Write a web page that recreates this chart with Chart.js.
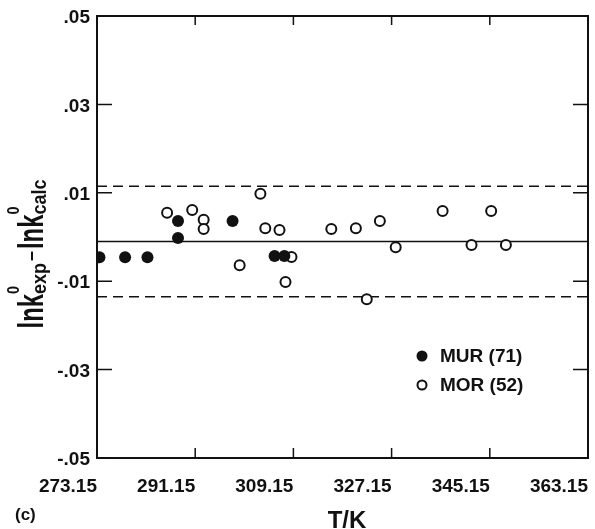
<!DOCTYPE html>
<html><head><meta charset="utf-8">
<script src="https://cdn.jsdelivr.net/npm/chart.js@4/dist/chart.umd.min.js"></script>
<style>html,body{margin:0;padding:0;background:#fff;}canvas{display:block;}</style>
</head><body>
<canvas id="c" width="595" height="529"></canvas>
<script>
// ---- data ----
const xTicks = [273.15, 291.15, 309.15, 327.15, 345.15, 363.15];
const yTicks = [-0.05, -0.03, -0.01, 0.01, 0.03, 0.05];
const murT = [273.6, 278.3, 282.4, 288.0, 288.0, 298.0, 305.7, 307.5];
const murD = [-0.0046, -0.0046, -0.0046, 0.0036, -0.0002, 0.0036, -0.0043, -0.0043];
const morT = [286.0, 290.6, 292.7, 292.7, 303.1, 304.0, 306.6, 299.3, 308.8, 307.7, 316.1, 320.6, 322.6, 325.0, 327.9, 336.5, 341.8, 345.4, 348.1];
const morD = [0.0055, 0.0061, 0.0039, 0.0018, 0.0098, 0.0020, 0.0016, -0.0064, -0.0045, -0.0102, 0.0018, 0.0020, -0.0141, 0.0036, -0.0023, 0.0059, -0.0018, 0.0059, -0.0018];
const meanLine = -0.001;
const upperLine = 0.0115;
const lowerLine = -0.0135;
const seriesNames = ['MUR (71)', 'MOR (52)'];

const FONT = "'Liberation Sans', Arial, Helvetica, sans-serif";
const INK = '#111';

const xMin = xTicks[0], xMax = xTicks[xTicks.length - 1];
const hLine = (v) => [{x: xMin, y: v}, {x: xMax, y: v}];
const pts = (xs, ys) => xs.map((x, i) => ({x, y: ys[i]}));

const decor = {
  id: 'decor',
  afterDraw(chart) {
    const ctx = chart.ctx, a = chart.chartArea;
    const xs = chart.scales.x, ys = chart.scales.y;
    ctx.save();
    ctx.strokeStyle = INK; ctx.lineWidth = 2;
    ctx.strokeRect(a.left, a.top, a.right - a.left, a.bottom - a.top);
    ctx.lineWidth = 1.5;
    ctx.beginPath();
    xTicks.forEach(v => {
      const p = xs.getPixelForValue(v);
      ctx.moveTo(p, a.bottom); ctx.lineTo(p, a.bottom - 10);
      ctx.moveTo(p, a.top); ctx.lineTo(p, a.top + 9);
    });
    yTicks.forEach(v => {
      const p = ys.getPixelForValue(v);
      ctx.moveTo(a.left, p); ctx.lineTo(a.left + 15, p);
      ctx.moveTo(a.right, p); ctx.lineTo(a.right - 15, p);
    });
    ctx.stroke();

    // legend
    const ds = chart.data.datasets;
    const lx = 422, ly = [356, 385];
    [0, 1].forEach(i => {
      const d = ds[i];
      ctx.beginPath();
      ctx.arc(lx, ly[i], i === 0 ? 5.5 : 4.5, 0, Math.PI * 2);
      if (i === 0) { ctx.fillStyle = d.backgroundColor; ctx.fill(); }
      else { ctx.fillStyle = '#fff'; ctx.fill(); ctx.lineWidth = 2; ctx.strokeStyle = d.borderColor; ctx.stroke(); }
      ctx.fillStyle = INK;
      ctx.font = 'bold 19px ' + FONT;
      ctx.textAlign = 'left'; ctx.textBaseline = 'middle';
      ctx.fillText(d.label, 440, ly[i] + 1);
    });

    // x title
    ctx.fillStyle = INK;
    ctx.font = 'bold 24px ' + FONT;
    ctx.textAlign = 'center'; ctx.textBaseline = 'alphabetic';
    ctx.fillText('T/K', 347, 528);
    // panel label
    ctx.font = 'bold 17px ' + FONT;
    ctx.textAlign = 'left';
    ctx.fillText('(c)', 15, 520);

    // y title (rotated)
    const parts = [
      {t: 'lnk', size: 35, v: 0, sx: 0.68},
      {t: '0', size: 17, v: -24, sx: 0.85, stack: true},
      {t: 'exp', size: 20, v: 3, sx: 0.9},
      {t: '\u2013', size: 20, v: -6, sx: 0.9, gap: 2},
      {t: 'lnk', size: 35, v: 0, sx: 0.68, gap: 2},
      {t: '0', size: 17, v: -24, sx: 0.85, stack: true},
      {t: 'calc', size: 20, v: 3, sx: 0.9}
    ];
    parts.forEach(p => {
      ctx.font = 'bold ' + p.size + 'px ' + FONT;
      p.w = ctx.measureText(p.t).width * p.sx;
    });
    let pos = 0, stackStart = null;
    parts.forEach((p, i) => {
      pos += (p.gap || 0);
      if (p.stack) { p.u = pos; stackStart = pos; }
      else if (stackStart !== null) { p.u = stackStart; pos = stackStart + Math.max(p.w, parts[i-1].w); stackStart = null; }
      else { p.u = pos; pos += p.w; }
    });
    const total = pos;
    const bx = 43, cy = 254;
    ctx.translate(bx, cy);
    ctx.rotate(-Math.PI / 2);
    ctx.textAlign = 'left'; ctx.textBaseline = 'alphabetic';
    parts.forEach(p => {
      ctx.save();
      ctx.translate(p.u - total / 2, p.v);
      ctx.scale(p.sx, 1);
      ctx.font = 'bold ' + p.size + 'px ' + FONT;
      ctx.fillText(p.t, 0, 0);
      ctx.restore();
    });
    ctx.restore();
  }
};

const fmtY = v => (v < 0 ? '-' : '') + Math.abs(v).toFixed(2).replace(/^0/, '');
const zeroPad = s => { s.paddingLeft = 0; s.paddingRight = 0; s.paddingTop = 0; s.paddingBottom = 0; };

new Chart(document.getElementById('c'), {
  type: 'scatter',
  data: {
    datasets: [
      {label: seriesNames[0], data: pts(murT, murD), pointRadius: 6, pointBackgroundColor: INK, backgroundColor: INK, pointBorderWidth: 0, borderColor: INK, order: 1},
      {label: seriesNames[1], data: pts(morT, morD), pointRadius: 5, pointBackgroundColor: '#fff', backgroundColor: '#fff', pointBorderWidth: 2, pointBorderColor: INK, borderColor: INK, order: 2},
      {type: 'line', data: hLine(meanLine), borderColor: INK, borderWidth: 1.5, pointRadius: 0, order: 5},
      {type: 'line', data: hLine(upperLine), borderColor: INK, borderWidth: 1.5, borderDash: [10, 6], pointRadius: 0, order: 5},
      {type: 'line', data: hLine(lowerLine), borderColor: INK, borderWidth: 1.5, borderDash: [10, 6], pointRadius: 0, order: 5}
    ]
  },
  options: {
    responsive: false, animation: false, devicePixelRatio: 1,
    layout: {padding: {top: 16, right: 3, left: 0, bottom: 0}},
    plugins: {legend: {display: false}, tooltip: {enabled: false}},
    scales: {
      x: {
        type: 'linear', min: xMin, max: xMax,
        afterBuildTicks: s => { s.ticks = xTicks.map(v => ({value: v})); },
        afterFit: s => { s.height = 71; zeroPad(s); },
        grid: {display: false, drawTicks: false}, border: {display: false},
        ticks: {align: 'end', padding: 17, color: INK, font: {family: FONT, weight: 'bold', size: 19}, callback: v => Number(v).toFixed(2)}
      },
      y: {
        type: 'linear', min: yTicks[0], max: yTicks[yTicks.length - 1],
        afterBuildTicks: s => { s.ticks = yTicks.map(v => ({value: v})); },
        afterFit: s => { s.width = 97; zeroPad(s); },
        grid: {display: false, drawTicks: false}, border: {display: false},
        ticks: {padding: 7, labelOffset: 2, color: INK, font: {family: FONT, weight: 'bold', size: 19}, callback: v => fmtY(v)}
      }
    }
  },
  plugins: [decor]
});
</script>
</body></html>
